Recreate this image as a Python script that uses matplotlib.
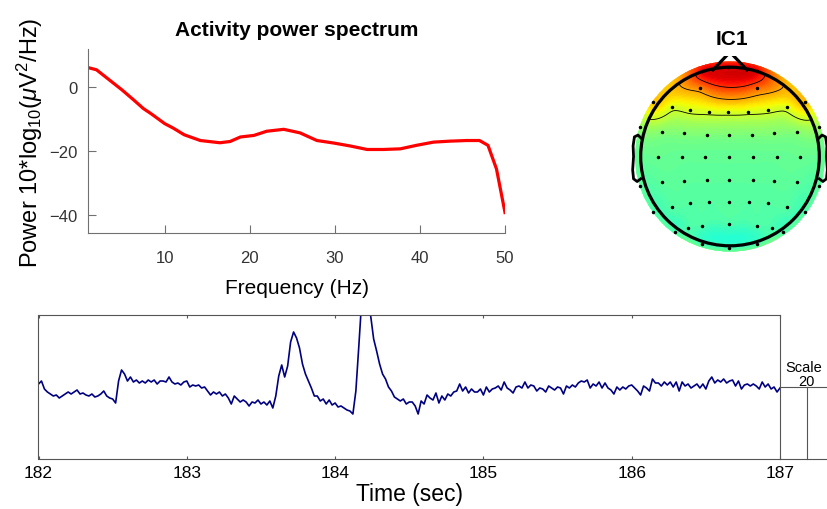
import numpy as np
import matplotlib
matplotlib.use("Agg")
import matplotlib.pyplot as plt
from matplotlib.patches import Circle

plt.rcParams['font.family'] = ['Liberation Sans', 'DejaVu Sans']
plt.rcParams['mathtext.fontset'] = 'custom'
plt.rcParams['mathtext.rm'] = 'Liberation Sans'
plt.rcParams['mathtext.it'] = 'Liberation Sans:italic'

# power spectrum (Hz, dB)
freqs = [1, 2, 3, 4, 5, 6.4, 7.5, 8.4, 10, 11, 12.3, 14.2, 16.5, 17.7, 18.9, 20.5,
         22, 24, 25.9, 27.9, 29.9, 31.8, 33.8, 35.7, 37.7, 39.6, 41.6, 43.5, 45.5,
         47.0, 48, 49, 50]
power = [6.2, 5.5, 3.4, 1.3, -0.8, -4.0, -6.6, -8.2, -11.3, -12.7, -14.8, -16.6, -17.3,
         -16.9, -15.5, -15.0, -13.7, -13.1, -14.2, -16.6, -17.4, -18.3, -19.4, -19.4,
         -19.2, -18.1, -17.1, -16.8, -16.6, -16.6, -18.1, -25.5, -39.1]
freq_ticks = [10, 20, 30, 40, 50]
power_ticks = [-40, -20, 0]

# component activity, 182-187 s
activity = [3, 6, -2, -5, -7, -9, -8, -11, -9, -7,
            -5, -7, -5, -3, -7, -6, -8, -9, -7, -10,
            -9, -7, -4, -9, -11, -12, -16, 6, 17, 13,
            6, 10, 5, 7, 4, 6, 4, 7, 5, 7,
            3, 6, 6, 5, 10, 5, 3, 4, 2, 5,
            6, 0, 2, 1, 2, -1, 0, -4, -8, -5,
            -7, -5, -9, -7, -11, -17, -9, -12, -15, -13,
            -15, -19, -15, -16, -13, -17, -15, -18, -14, -21,
            -9, 11, 22, 10, 21, 45, 55, 49, 39, 23,
            13, 6, -1, -9, -9, -14, -12, -17, -13, -18,
            -16, -20, -19, -21, -23, -24, -27, -4, 41, 88,
            100, 90, 71, 48, 36, 23, 13, 8, 0, -4,
            -10, -12, -14, -12, -17, -15, -15, -19, -27, -14,
            -17, -8, -11, -13, -6, -16, -9, -13, -7, -9,
            -5, -4, 3, -4, 0, -6, -2, -5, -5, -2,
            -8, 0, -5, -2, -1, 1, -3, 5, -1, -3,
            -6, 0, 1, -1, 5, -1, 2, 1, -4, -1,
            -2, -5, 1, -1, -3, 0, -1, -7, 1, -1,
            2, 0, 4, 6, 5, 7, -1, 3, 1, 5,
            -1, 4, -1, -3, -7, 0, -3, 0, -2, 1,
            2, -1, -4, -8, 1, -1, -4, 8, 4, 4,
            1, 5, 2, 5, 0, 5, -4, 5, 1, 3,
            -1, 1, 3, -1, 3, -2, 6, 10, 4, 7,
            5, 8, 4, 6, 7, 1, 6, -2, 2, 3,
            1, 3, 1, -2, 5, 0, 3, -2, 0, -5,
            -1]
time_ticks = [182, 183, 184, 185, 186, 187]

# electrode positions (head radius = 1) and IC1 map weights
elec_x = [-0.317, -0.019, 0.299, -0.336, 0.306, -0.858, 0.840,
          -0.653, -0.448, -0.231, -0.019, 0.205, 0.429, 0.634,
          -1.007, 1.0,
          -0.765, -0.515, -0.261, -0.007, 0.243, 0.493, 0.746,
          -0.802, -0.541, -0.280, -0.007, 0.254, 0.522, 0.784,
          -0.765, -0.515, -0.261, -0.007, 0.254, 0.493, 0.746, -1.007, 1.0,
          -0.653, -0.448, -0.231, -0.007, 0.216, 0.429, 0.634, -0.858, 0.840,
          -0.466, -0.317, -0.007, 0.299, 0.466, -0.616, 0.597,
          -0.317, -0.007, 0.299]
elec_y = [0.961, 0.998, 0.961, 0.763, 0.763, 0.614, 0.614,
          0.550, 0.520, 0.502, 0.494, 0.502, 0.520, 0.550,
          0.326, 0.326,
          0.278, 0.259, 0.244, 0.241, 0.244, 0.259, 0.278,
          0.0, 0.0, 0.0, 0.0, 0.0, 0.0, 0.0,
          -0.289, -0.271, -0.263, -0.259, -0.263, -0.271, -0.289, -0.326, -0.326,
          -0.569, -0.524, -0.513, -0.506, -0.513, -0.524, -0.569, -0.625, -0.625,
          -0.804, -0.774, -0.756, -0.774, -0.804, -0.849, -0.849,
          -0.979, -1.028, -0.979]
elec_val = [0.80, 0.82, 0.81, 0.52, 0.58, 0.40, 0.42,
            0.22, 0.22, 0.22, 0.22, 0.22, 0.22, 0.23,
            0.05, 0.06,
            0.02, 0.01, 0.0, 0.0, 0.0, 0.01, 0.02,
            -0.05, -0.06, -0.06, -0.06, -0.06, -0.06, -0.05,
            -0.08, -0.08, -0.08, -0.08, -0.08, -0.08, -0.08, -0.08, -0.08,
            -0.10, -0.10, -0.10, -0.10, -0.10, -0.10, -0.10, -0.11, -0.11,
            -0.12, -0.12, -0.12, -0.12, -0.12, -0.12, -0.12,
            -0.14, -0.14, -0.14]
map_limit = 1.0
contour_levels = [0.18, 0.46, 0.7]
ear_x = [0.99, 1.03, 1.07, 1.085, 1.08, 1.09, 1.08, 1.04, 1.0]
ear_y = [0.20, 0.24, 0.22, 0.12, 0.0, -0.15, -0.25, -0.28, -0.25]

W, H = 828, 510
fig = plt.figure(figsize=(W / 100, H / 100), dpi=100)

def px_axes(x0, y0, x1, y1):
    return fig.add_axes([x0 / W, 1 - y1 / H, (x1 - x0) / W, (y1 - y0) / H])

axis_gray = '#707070'
label_gray = '#333333'

# ---- power spectrum
ax = px_axes(88, 50, 505, 234)
ax.plot(freqs, power, color='red', lw=2.3)
ax.set_xlim(1, 50)
ax.set_ylim(-45.5, 12)
ax.set_xticks(freq_ticks)
ax.set_yticks(power_ticks)
for s in ['top', 'right']:
    ax.spines[s].set_visible(False)
for s in ['left', 'bottom']:
    ax.spines[s].set_color(axis_gray)
ax.tick_params(axis='x', direction='in', length=6, color=axis_gray, labelcolor=label_gray,
               labelsize=12, pad=12.5)
ax.tick_params(axis='y', direction='in', length=6, color=axis_gray, labelcolor=label_gray,
               labelsize=12, pad=7.5)
fig.text(297 / W, 1 - 31 / H, 'Activity power spectrum', ha='center', va='center',
         fontsize=15, fontweight='bold')
fig.text(297 / W, 1 - 288 / H, 'Frequency (Hz)', ha='center', va='center', fontsize=15)
fig.text(30 / W, 1 - 143 / H, r'Power 10*log$_{10}$($\mu$V$^2$/Hz)', ha='center',
         va='center', rotation=90, fontsize=17)

# ---- scalp map
ax_t = px_axes(627.3, 56.6, 832.7, 260.2)
ax_t.set_xlim(-1.15, 1.15)
ax_t.set_ylim(-1.15, 1.13)
ax_t.axis('off')

ex, ey, ev = np.array(elec_x), np.array(elec_y), np.array(elec_val)

def green(d):
    with np.errstate(divide='ignore', invalid='ignore'):
        g = d ** 2 * (np.log(d) - 1)
    g[d == 0] = 0
    return g

dmat = np.hypot(ex[:, None] - ex[None, :], ey[:, None] - ey[None, :])
weights = np.linalg.solve(green(dmat), ev)
gx = np.linspace(-1.1, 1.1, 221)
GX, GY = np.meshgrid(gx, gx)
dgrid = np.hypot(GX[..., None] - ex, GY[..., None] - ey)
Z = green(dgrid) @ weights
cf = ax_t.contourf(GX, GY, Z, levels=np.linspace(-map_limit, map_limit, 121), cmap='jet',
                   extend='both')
cf.set_clip_path(Circle((0, 0), 1.065, transform=ax_t.transData))
cl = ax_t.contour(GX, GY, Z, levels=contour_levels, colors='k', linewidths=0.6)
cl.set_clip_path(Circle((0, 0), 1.0, transform=ax_t.transData))
ax_t.add_patch(Circle((0, 0), 1.0, fill=False, lw=2.3, color='k'))
ax_t.plot(ex, ey, 'k.', ms=3)
ax_t.plot([-0.19, 0, 0.19], [0.97, 1.17, 0.97], color='k', lw=2.3)
ax_t.plot(ear_x, ear_y, color='k', lw=2.0)
ax_t.plot(-np.array(ear_x), ear_y, color='k', lw=2.0)
fig.text(732 / W, 1 - 40 / H, 'IC1', ha='center', va='center', fontsize=15,
         fontweight='bold')

# ---- activity trace
ax_b = px_axes(38.5, 316, 780, 460)
t = np.linspace(182, 187, len(activity))
ax_b.plot(t, activity, color='#000080', lw=1.2)
ax_b.set_xlim(182, 187)
ax_b.set_ylim(-72, 72)
ax_b.set_xticks(time_ticks)
ax_b.set_yticks([])
for s in ax_b.spines.values():
    s.set_color('#555555')
    s.set_linewidth(0.8)
ax_b.tick_params(axis='x', direction='in', length=2.5, top=True, labelsize=12.5,
                 pad=4.5, color='#555555')
ax_b.plot([187, 187.4], [0, 0], color='#555555', lw=0.8, clip_on=False)
ax_b.plot([187, 187.4], [-72, -72], color='#555555', lw=0.8, clip_on=False)
ax_b.plot([187.18, 187.18], [0, -72], color='#555555', lw=0.8, clip_on=False)
ax_b.text(187.034, 20, 'Scale', ha='left', va='center', fontsize=10.5, clip_on=False)
ax_b.text(187.18, 5.5, '20', ha='center', va='center', fontsize=10.5, clip_on=False)
fig.text(410 / W, 1 - 495 / H, 'Time (sec)', ha='center', va='center', fontsize=16.5)

fig.savefig('out.png', dpi=100)
